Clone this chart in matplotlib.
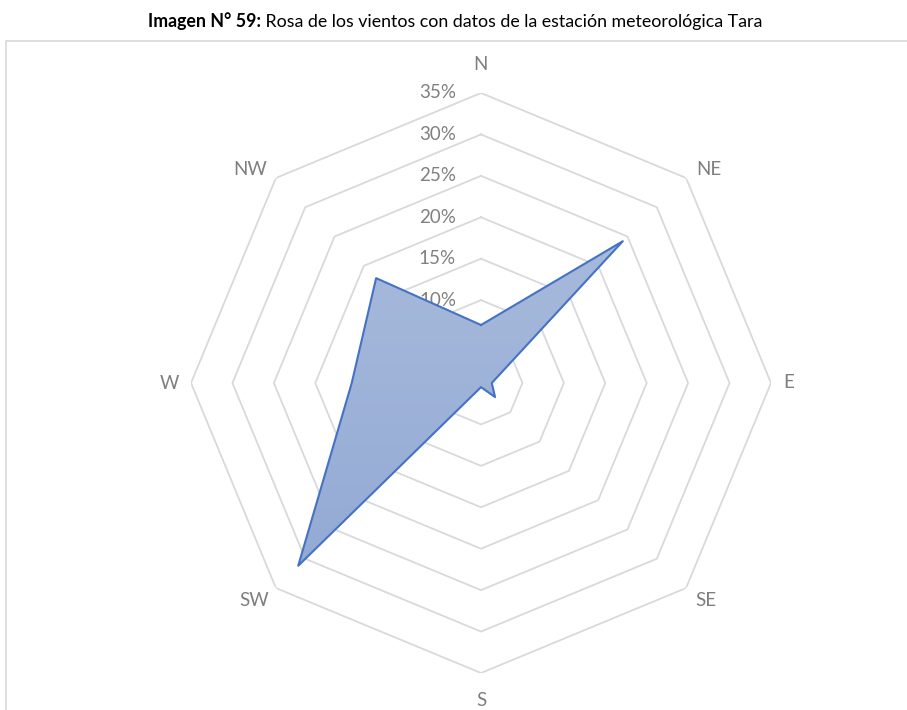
import numpy as np
import matplotlib
matplotlib.use("Agg")
import matplotlib.pyplot as plt
from matplotlib.colors import LinearSegmentedColormap
from matplotlib.patches import Rectangle

# wind rose data (% of time per direction)
directions = ["N", "NE", "E", "SE", "S", "SW", "W", "NW"]
frequency = [7.0, 24.2, 1.3, 2.4, 0.5, 31.2, 15.6, 17.9]
ring_levels = [0, 5, 10, 15, 20, 25, 30, 35]
ring_labels = ["0%", "5%", "10%", "15%", "20%", "25%", "30%", "35%"]

# pixel offset of each direction label from the outer ring vertex (Excel-like placement)
label_offset = [(-1, 28), (23, 8), (18, 1), (20, -12), (0, -27), (-22, -12), (-22, 0), (-26, 8)]

plt.rcParams['font.family'] = ['Lato', 'DejaVu Sans']

W, H = 907, 710
fig = plt.figure(figsize=(W / 100, H / 100), dpi=100)

# light chart-area border (left and top edges visible)
fig.patches.append(Rectangle((6 / W, -0.1), 1.2, (710 - 41) / H + 0.1,
                             transform=fig.transFigure, fill=False,
                             edgecolor="#D9D9D9", lw=1.2))

cx, cy, R = 481, 383, 290
ax = fig.add_axes([(cx - R) / W, (H - cy - R) / H, 2 * R / W, 2 * R / H],
                  projection="polar")
ax.set_theta_zero_location("N")
ax.set_theta_direction(-1)
ax.set_ylim(0, 35)
ax.grid(False)
ax.set_xticks([])
ax.set_yticks([])
ax.spines["polar"].set_visible(False)
ax.patch.set_alpha(0)

theta = np.deg2rad(np.arange(len(directions)) * 45.0)
theta_closed = np.append(theta, theta[0])

# octagonal grid rings
for lvl in ring_levels[1:]:
    ax.plot(theta_closed, [lvl] * len(theta_closed), color="#D9D9D9", lw=1.3, zorder=1)

# ring value labels
for lvl, lab in zip(ring_levels, ring_labels):
    ax.annotate(lab, xy=(0, lvl), xytext=(-25, 0), textcoords="offset pixels",
                ha="right", va="center", fontsize=13.5, color="#808080", zorder=1)

# direction labels
outer = ring_levels[-1]
for t, d, off in zip(theta, directions, label_offset):
    ax.annotate(d, xy=(t, outer), xytext=off, textcoords="offset pixels",
                ha="center", va="center", fontsize=13.5, color="#7F7F7F",
                annotation_clip=False)

# data polygon with vertical gradient fill
vals_closed = np.append(frequency, frequency[0])
poly = ax.fill(theta_closed, vals_closed, facecolor="none", edgecolor="none", zorder=2)[0]
cmap = LinearSegmentedColormap.from_list("grad", ["#8DA5D2", "#B0C1DF"])
grad = np.linspace(0, 1, 256).reshape(-1, 1)
im = ax.imshow(grad, extent=[0, 1, 0, 1], transform=ax.transAxes, origin="lower",
               cmap=cmap, aspect="auto", zorder=2)
im.set_clip_path(poly)
ax.plot(theta_closed, vals_closed, color="#4472C4", lw=1.5, zorder=3)
ax.set_ylim(0, 35)

# title: bold prefix + regular text
t1 = fig.text(148 / W, 1 - 21 / H, "Imagen N° 59:", ha="left", va="center",
              fontsize=12.8, fontweight="bold", color="black")
plt.annotate(" Rosa de los vientos con datos de la estación meteorológica Tara",
             xy=(1, 0), xycoords=t1, ha="left", va="bottom",
             fontsize=12.8, color="black", annotation_clip=False)

fig.savefig("out.png", dpi=100)
